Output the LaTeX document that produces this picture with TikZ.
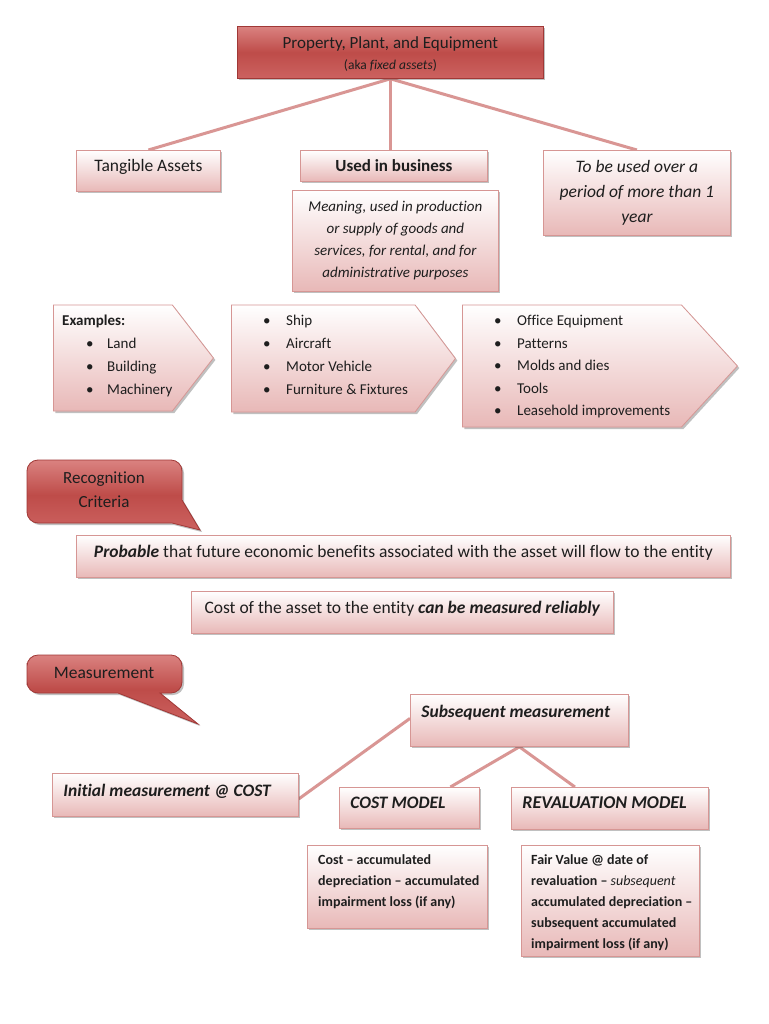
\documentclass[tikz,border=0pt]{standalone}
\usepackage{fontspec}
\setmainfont{Carlito}[Ligatures=NoCommon]
\usetikzlibrary{shadows,shapes.symbols,backgrounds,calc}
\definecolor{bordc}{RGB}{214,150,148}
\definecolor{pinkc}{RGB}{232,184,183}
\definecolor{dtop}{RGB}{218,130,128}
\definecolor{dmid}{RGB}{190,76,73}
\definecolor{dbot}{RGB}{204,98,96}
\definecolor{dbord}{RGB}{160,56,54}
\definecolor{linec}{RGB}{217,150,148}
\definecolor{txt}{RGB}{30,30,30}
\tikzset{
  shad/.style={drop shadow={shadow xshift=2pt,shadow yshift=-2pt,opacity=0.35,fill=black!70}},
  lbox/.style={draw=bordc, line width=0.8pt, top color=white, bottom color=pinkc, shad, inner sep=0pt, anchor=north west, text=txt},
  dbox/.style={draw=dbord, line width=0.8pt, top color=dtop, bottom color=dbot, middle color=dmid, shad, inner sep=0pt, text=txt},
  dcall/.style={draw=dbord, line width=0.8pt, top color=dtop, bottom color=dbot, middle color=dmid, shad},
  pent/.style={signal, signal to=east, signal from=nowhere, draw=bordc, line width=0.8pt, top color=white, bottom color=pinkc, shad, inner sep=0pt, anchor=west},
  conn/.style={draw=linec, line width=3pt},
  plain/.style={inner sep=0pt, text=txt, align=left}
}
\newcommand{\bul}[1]{\makebox[#1][l]{\textbullet}}
\begin{document}
\begin{tikzpicture}[x=1pt,y=-1pt]
\useasboundingbox (0,0) rectangle (768,1024);
% top
\node[dbox, anchor=north west, minimum width=306pt, minimum height=52pt, align=center] (ppe) at (237,26)
  {\fontsize{17}{20}\selectfont\rule{0pt}{15pt}Property, Plant, and Equipment\\[7pt]\fontsize{13.5}{16}\selectfont (aka \textit{fixed assets})};
\node[lbox, minimum width=144pt, minimum height=41pt, text height=12pt, text depth=10pt, font=\fontsize{17.5}{20}\selectfont] (tang) at (76,150) {Tangible Assets};
\node[lbox, minimum width=187pt, minimum height=31pt, font=\fontsize{17}{20}\selectfont\bfseries] (used) at (300,150) {Used in business};
\node[lbox, minimum width=206pt, minimum height=101pt, text width=206pt, align=flush center, font=\fontsize{15}{22}\selectfont\itshape] (mean) at (292,190)
  {Meaning, used in production\\or supply of goods and\\services, for rental, and for\\administrative purposes};
\node[lbox, minimum width=187pt, minimum height=85pt, text width=187pt, align=flush center, font=\fontsize{17.5}{25}\selectfont\itshape] (year) at (543,150)
  {To be used over a\\period of more than 1\\year};
% pentagons
\node[pent, minimum width=160pt, minimum height=106pt, signal pointer angle=104.5] (p1) at (53,358) {};
\node[pent, minimum width=224pt, minimum height=107pt, signal pointer angle=106] (p2) at (231,358.5) {};
\node[pent, minimum width=275pt, minimum height=122pt, signal pointer angle=95] (p3) at (462,366) {};
\node[plain, anchor=north west, font=\fontsize{15}{22.8}\selectfont] (p1t) at (62,315)
  {\textbf{Examples:}\\\hspace*{24pt}\bul{21pt}Land\\\hspace*{24pt}\bul{21pt}Building\\\hspace*{24pt}\bul{21pt}Machinery};
\node[plain, anchor=north west, font=\fontsize{15}{22.8}\selectfont] (p2t) at (263,315)
  {\bul{23pt}Ship\\\bul{23pt}Aircraft\\\bul{23pt}Motor Vehicle\\\bul{23pt}Furniture \& Fixtures};
\node[plain, anchor=north west, font=\fontsize{15}{22.6}\selectfont] (p3t) at (494,315)
  {\bul{23pt}Office Equipment\\\bul{23pt}Patterns\\\bul{23pt}Molds and dies\\\bul{23pt}Tools\\\bul{23pt}Leasehold improvements};
% recognition callout
\path[dcall, rounded corners=11pt] (27,491) -- (27,460) -- (182,460) [sharp corners] -- (182,500) -- (200,530) -- (172,523) [rounded corners=11pt] -- (27,523) -- cycle;
\node[plain, align=center, font=\fontsize{17}{24}\selectfont] (rec) at (104,490) {Recognition\\Criteria};
\node[lbox, minimum width=654pt, minimum height=42pt, text height=12pt, text depth=10pt, font=\fontsize{17.5}{20}\selectfont] (prob) at (76,535)
  {\textbf{\textit{Probable}} that future economic benefits associated with the asset will flow to the entity};
\node[lbox, minimum width=422pt, minimum height=42pt, text height=12pt, text depth=10pt, font=\fontsize{17.5}{20}\selectfont] (reli) at (191,591)
  {Cost of the asset to the entity \textbf{\textit{can be measured reliably}}};
% measurement callout
\path[dcall, rounded corners=11pt] (27,674) -- (27,655) -- (182,655) -- (182,693) [sharp corners] -- (160,693) -- (198,724) -- (118,693) [rounded corners=11pt] -- (27,693) -- cycle;
\node[plain, align=center, font=\fontsize{17.5}{20}\selectfont] (meas) at (104,673) {Measurement};
\node[lbox, minimum width=218pt, minimum height=52pt, text width=196pt, inner xsep=11pt, text height=12pt, text depth=18pt, align=flush left, font=\fontsize{17.5}{20}\selectfont\bfseries\itshape] (subs) at (410,694) {Subsequent measurement};
\node[lbox, minimum width=246pt, minimum height=43pt, text width=224pt, inner xsep=11pt, text height=12pt, text depth=9pt, align=flush left, font=\fontsize{17.5}{20}\selectfont\bfseries\itshape] (init) at (52,773) {Initial measurement @ COST};
\node[lbox, minimum width=140pt, minimum height=41pt, text width=118pt, inner xsep=11pt, text height=12pt, text depth=11pt, align=flush left, font=\fontsize{17.5}{20}\selectfont\bfseries\itshape] (costm) at (339,787) {COST MODEL};
\node[lbox, minimum width=197pt, minimum height=42pt, text width=175pt, inner xsep=11pt, text height=12pt, text depth=11pt, align=flush left, font=\fontsize{18}{20}\selectfont\bfseries\itshape] (revm) at (511,787) {REVALUATION MODEL};
\node[lbox, minimum width=180pt, minimum height=83pt] (costb) at (307,845) {};
\node[plain, anchor=north west, font=\fontsize{14}{21}\selectfont\bfseries] (costt) at (318,854)
  {Cost -- accumulated\\depreciation -- accumulated\\impairment loss (if any)};
\node[lbox, minimum width=178pt, minimum height=111pt] (revb) at (521,845) {};
\node[plain, anchor=north west, font=\fontsize{14}{21}\selectfont\bfseries] (revt) at (531,854)
  {Fair Value @ date of\\revaluation -- \textmd{\textit{subsequent}}\\accumulated depreciation --\\subsequent accumulated\\impairment loss (if any)};
% connectors
\begin{scope}[on background layer]
\fill[white] (0,0) rectangle (768,1024);
\draw[conn] (ppe.south) -- (tang.north);
\draw[conn] (ppe.south) -- (ppe.south |- used.north);
\draw[conn] (ppe.south) -- (year.north);
\draw[conn] ([yshift=-4pt]init.east) -- ([yshift=2pt]subs.west);
\draw[conn] (subs.south) -- ([xshift=41pt]costm.north);
\draw[conn] (subs.south) -- ([xshift=-35pt]revm.north);
\end{scope}
\end{tikzpicture}
\end{document}
